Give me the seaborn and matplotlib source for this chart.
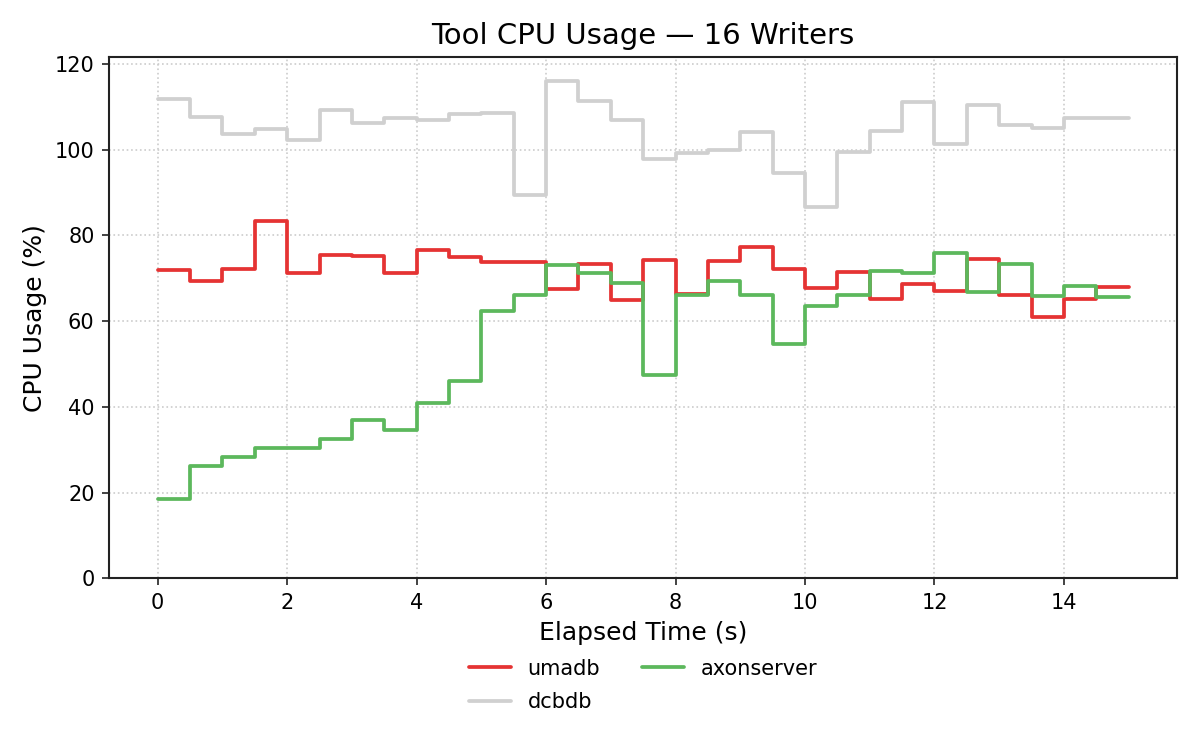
import numpy as np
import pandas as pd
import matplotlib
matplotlib.use("Agg")
import matplotlib.pyplot as plt
import seaborn as sns

time_s = [i * 0.5 for i in range(31)]

umadb = [71.8, 69.3, 72.1, 83.3, 71.2, 75.4, 75.1, 71.1, 76.5, 74.9,
         73.8, 73.8, 67.4, 73.4, 64.8, 74.3, 66.3, 73.9, 77.3, 72.1,
         67.6, 71.4, 65.1, 68.7, 67.0, 74.4, 66.0, 60.9, 65.1, 67.9, 67.9]

dcbdb = [111.8, 107.7, 103.7, 104.9, 102.2, 109.3, 106.1, 107.4, 106.8, 108.2,
         108.6, 89.5, 116.0, 111.4, 106.9, 97.9, 99.1, 99.8, 104.1, 94.6,
         86.6, 99.5, 104.3, 111.1, 101.3, 110.3, 105.8, 105.1, 107.4, 107.4, 107.4]

axonserver = [18.6, 26.3, 28.2, 30.5, 30.5, 32.6, 37.0, 34.5, 40.9, 46.1,
              62.3, 66.0, 73.0, 71.2, 68.9, 47.4, 66.1, 69.3, 66.1, 54.6,
              63.5, 66.0, 71.6, 71.3, 75.8, 66.8, 73.2, 65.8, 68.1, 65.5, 65.5]

series_names = ["umadb", "dcbdb", "axonserver"]
series_colors = ["#e53333", "#d0d0d0", "#5cb85c"]

frames = []
for name, vals in zip(series_names, [umadb, dcbdb, axonserver]):
    frames.append(pd.DataFrame({"time": time_s, "cpu": vals, "tool": name}))
df = pd.concat(frames, ignore_index=True)

sns.set_style("ticks")
plt.rcParams["font.family"] = ["DejaVu Sans"]
plt.rcParams["text.color"] = "black"
plt.rcParams["axes.labelcolor"] = "black"

fig, ax = plt.subplots(figsize=(8, 5), dpi=150)
sns.lineplot(data=df, x="time", y="cpu", hue="tool", hue_order=series_names,
             palette=dict(zip(series_names, series_colors)),
             drawstyle="steps-post", linewidth=1.8, ax=ax)

ax.set_ylim(0, 121.6)
ax.grid(True, linestyle=":", color="#cccccc", linewidth=0.8)
ax.set_axisbelow(True)
for s in ax.spines.values():
    s.set_color("#222222")
    s.set_linewidth(1.0)
ax.tick_params(colors="#222222", labelsize=10, labelcolor="black")

ax.set_title("Tool CPU Usage — 16 Writers", fontsize=14, color="black")
ax.set_xlabel("Elapsed Time (s)", fontsize=12, color="black")
ax.set_ylabel("CPU Usage (%)", fontsize=12, color="black")

leg = ax.legend(loc="upper center", bbox_to_anchor=(0.5, -0.118), ncol=2,
                frameon=False, fontsize=10, title=None, columnspacing=2.0,
                labelspacing=0.65)
for t in leg.get_texts():
    t.set_color("black")

fig.subplots_adjust(left=0.091, right=0.981, top=0.924, bottom=0.229)
fig.savefig("out.png", dpi=150)
